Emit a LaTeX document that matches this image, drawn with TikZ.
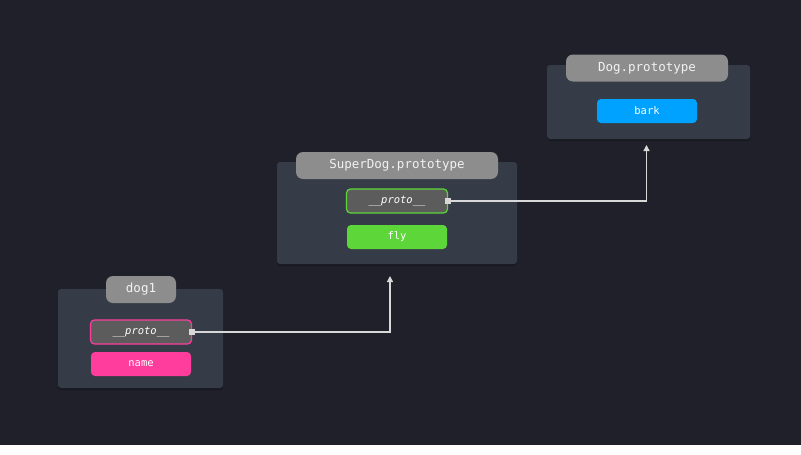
\documentclass[tikz,border=0pt]{standalone}
\usepackage{fontspec}
\setmonofont{DejaVu Sans Mono}
\usetikzlibrary{arrows.meta,shadows}

\begin{document}
\begin{tikzpicture}[x=1pt,y=-1pt,
    panel/.style={fill=panelcolor, rounded corners=3pt, inner sep=0pt,
        drop shadow={shadow xshift=0pt, shadow yshift=-2pt, opacity=0.2, fill=black}},
    title/.style={fill=titlecolor, rounded corners=7pt, inner sep=0pt, minimum height=27pt,
        text=titletext, font=\ttfamily\fontsize{12.5}{14}\selectfont},
    slot/.style={rounded corners=4pt, inner sep=0pt, minimum width=100pt, minimum height=24pt,
        text=white, font=\ttfamily\fontsize{10.5}{12}\selectfont},
    protoslot/.style={slot, fill=protofill, line width=1.2pt, minimum width=101pt, font=\ttfamily\itshape\fontsize{10.5}{12}\selectfont},
    link/.style={draw=linkcolor, line width=1.3pt,
        {Square[length=6pt,width=6pt]}-{Triangle[length=6pt,width=6pt]}, shorten <=-3pt}]
        % Define colors
        \definecolor{bgcolor}{RGB}{31,32,41}
        \definecolor{panelcolor}{RGB}{54,60,71}
        \definecolor{titlecolor}{RGB}{141,141,141}
        \definecolor{titletext}{RGB}{242,242,242}
        \definecolor{protofill}{RGB}{92,92,92}
        \definecolor{linkcolor}{RGB}{216,216,216}
        \definecolor{pinkcolor}{RGB}{255,61,157}
        \definecolor{greencolor}{RGB}{92,214,56}
        \definecolor{bluecolor}{RGB}{0,162,255}

        % Draw background
        \fill[white] (0,0) rectangle (801,455);
        \fill[bgcolor] (0,0) rectangle (801,445);
        \useasboundingbox (0,0) rectangle (801,455);

        % dog1
        \node[panel, minimum width=165pt, minimum height=99pt] (dpanel) at (140.5,338.5) {};
        \node[title, minimum width=70pt] (dtitle) at (141,289.5) {dog1};
        \node[protoslot, draw=pinkcolor] (dproto) at (141,332) {\_\_proto\_\_};
        \node[slot, fill=pinkcolor] (dname) at (141,364) {name};

        % SuperDog.prototype
        \node[panel, minimum width=240pt, minimum height=102pt] (sdpanel) at (397,213) {};
        \node[title, minimum width=202pt] (sdtitle) at (397,165.5) {SuperDog.prototype};
        \node[protoslot, draw=greencolor] (sdproto) at (397,201) {\_\_proto\_\_};
        \node[slot, fill=greencolor] (sdfly) at (397,237) {fly};

        % Dog.prototype
        \node[panel, minimum width=203pt, minimum height=74pt] (dogpanel) at (648.5,102) {};
        \node[title, minimum width=162pt] (dogtitle) at (647,68) {Dog.prototype};
        \node[slot, fill=bluecolor] (dogbark) at (647,111) {bark};

        % Draw links
        \coordinate (sdin) at (390,276);
        \coordinate (dogin) at (646.5,145);
        \draw[link] (dproto.east) -| (sdin);
        \draw[link] (sdproto.east) -| (dogin);
\end{tikzpicture}
\end{document}
